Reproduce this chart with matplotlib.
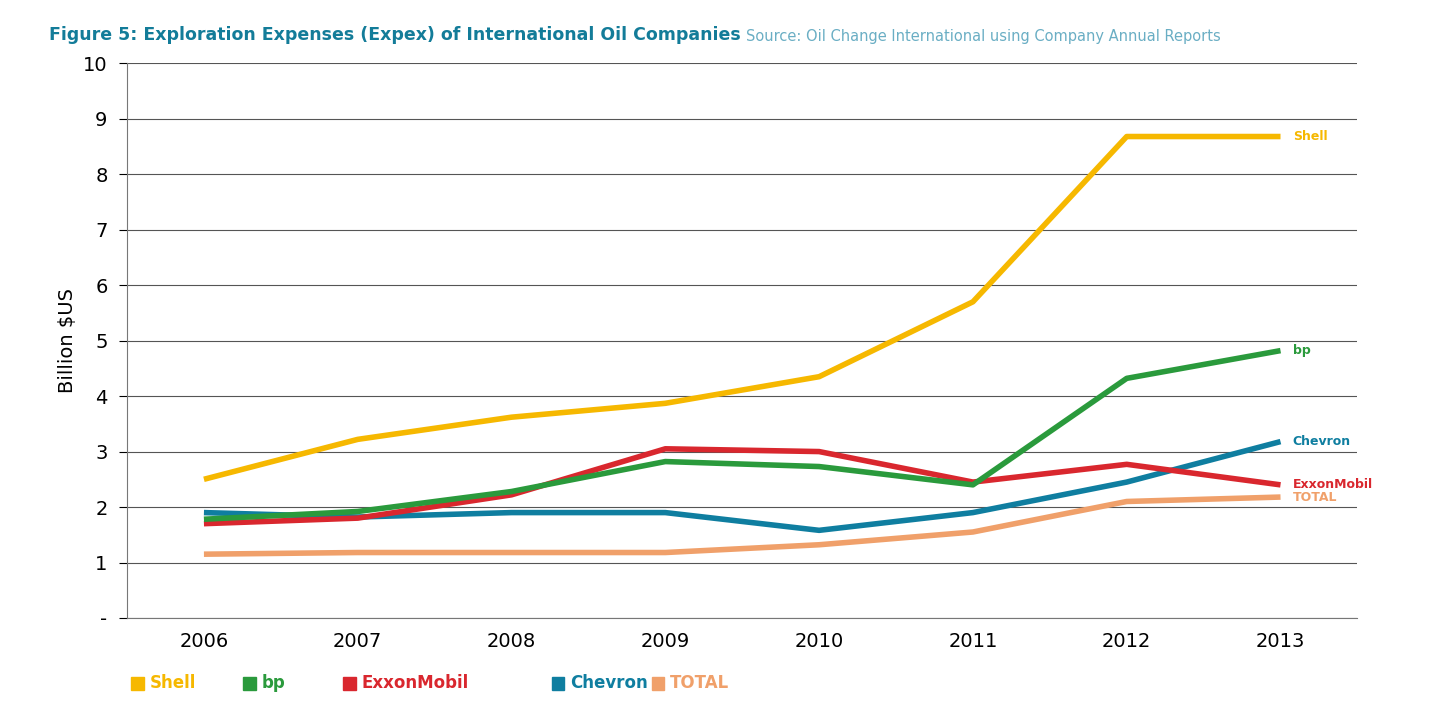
import matplotlib.pyplot as plt

years = [2006, 2007, 2008, 2009, 2010, 2011, 2012, 2013]
shell = [2.5, 3.22, 3.62, 3.87, 4.35, 5.7, 8.68, 8.68]
bp = [1.78, 1.92, 2.28, 2.82, 2.73, 2.4, 4.32, 4.82]
exxon = [1.7, 1.8, 2.22, 3.05, 3.0, 2.45, 2.77, 2.4]
chevron = [1.9, 1.82, 1.9, 1.9, 1.58, 1.9, 2.45, 3.18]
total = [1.15, 1.18, 1.18, 1.18, 1.32, 1.55, 2.1, 2.18]
names = ['Shell', 'bp', 'ExxonMobil', 'Chevron', 'TOTAL']
colors = ['#f6b800', '#2a9a3c', '#d9272e', '#0f7ea0', '#f0a06a']

fig = plt.figure(figsize=(14.29, 7.26), dpi=100)
ax = fig.add_axes([0.0889, 0.1488, 0.861, 0.764])

series = [shell, bp, exxon, chevron, total]
for vals, c in zip(series[::-1], colors[::-1]):
    ax.plot(years, vals, color=c, lw=4, solid_capstyle='butt')

# end labels instead of logos
for vals, name, c in zip(series, names, colors):
    ax.text(2013.08, vals[-1], name, color=c, fontsize=9, fontweight='bold',
            va='center', ha='left')

ax.set_xlim(2005.5, 2013.5)
ax.set_ylim(0, 10)
ax.set_yticks(range(11))
ax.set_yticklabels(['-'] + [str(i) for i in range(1, 11)])
ax.set_xticks(years)
ax.tick_params(labelsize=14, length=0, pad=10)
ax.tick_params(axis='y', length=6, direction='out', pad=8)
ax.grid(axis='y', color='#555555', lw=0.8)
ax.set_axisbelow(True)
for s in ['top', 'right']:
    ax.spines[s].set_visible(False)
ax.spines['left'].set_color('#777777')
ax.spines['bottom'].set_color('#777777')
ax.set_ylabel('Billion $US', fontsize=14)

fig.text(0.034, 0.94, 'Figure 5: Exploration Expenses (Expex) of International Oil Companies',
         color='#137c99', fontsize=12.5, fontweight='bold', va='bottom')
fig.text(0.522, 0.94, 'Source: Oil Change International using Company Annual Reports',
         color='#6aaec4', fontsize=10.5, va='bottom')

# legend row
xs = [0.092, 0.170, 0.240, 0.386, 0.456]
for x, name, c in zip(xs, names, colors):
    fig.patches.append(plt.Rectangle((x, 0.05), 0.009, 0.018, color=c,
                                     transform=fig.transFigure))
    fig.text(x + 0.013, 0.059, name, color=c, fontsize=12, fontweight='bold', va='center')

fig.savefig('out.png', dpi=100)
